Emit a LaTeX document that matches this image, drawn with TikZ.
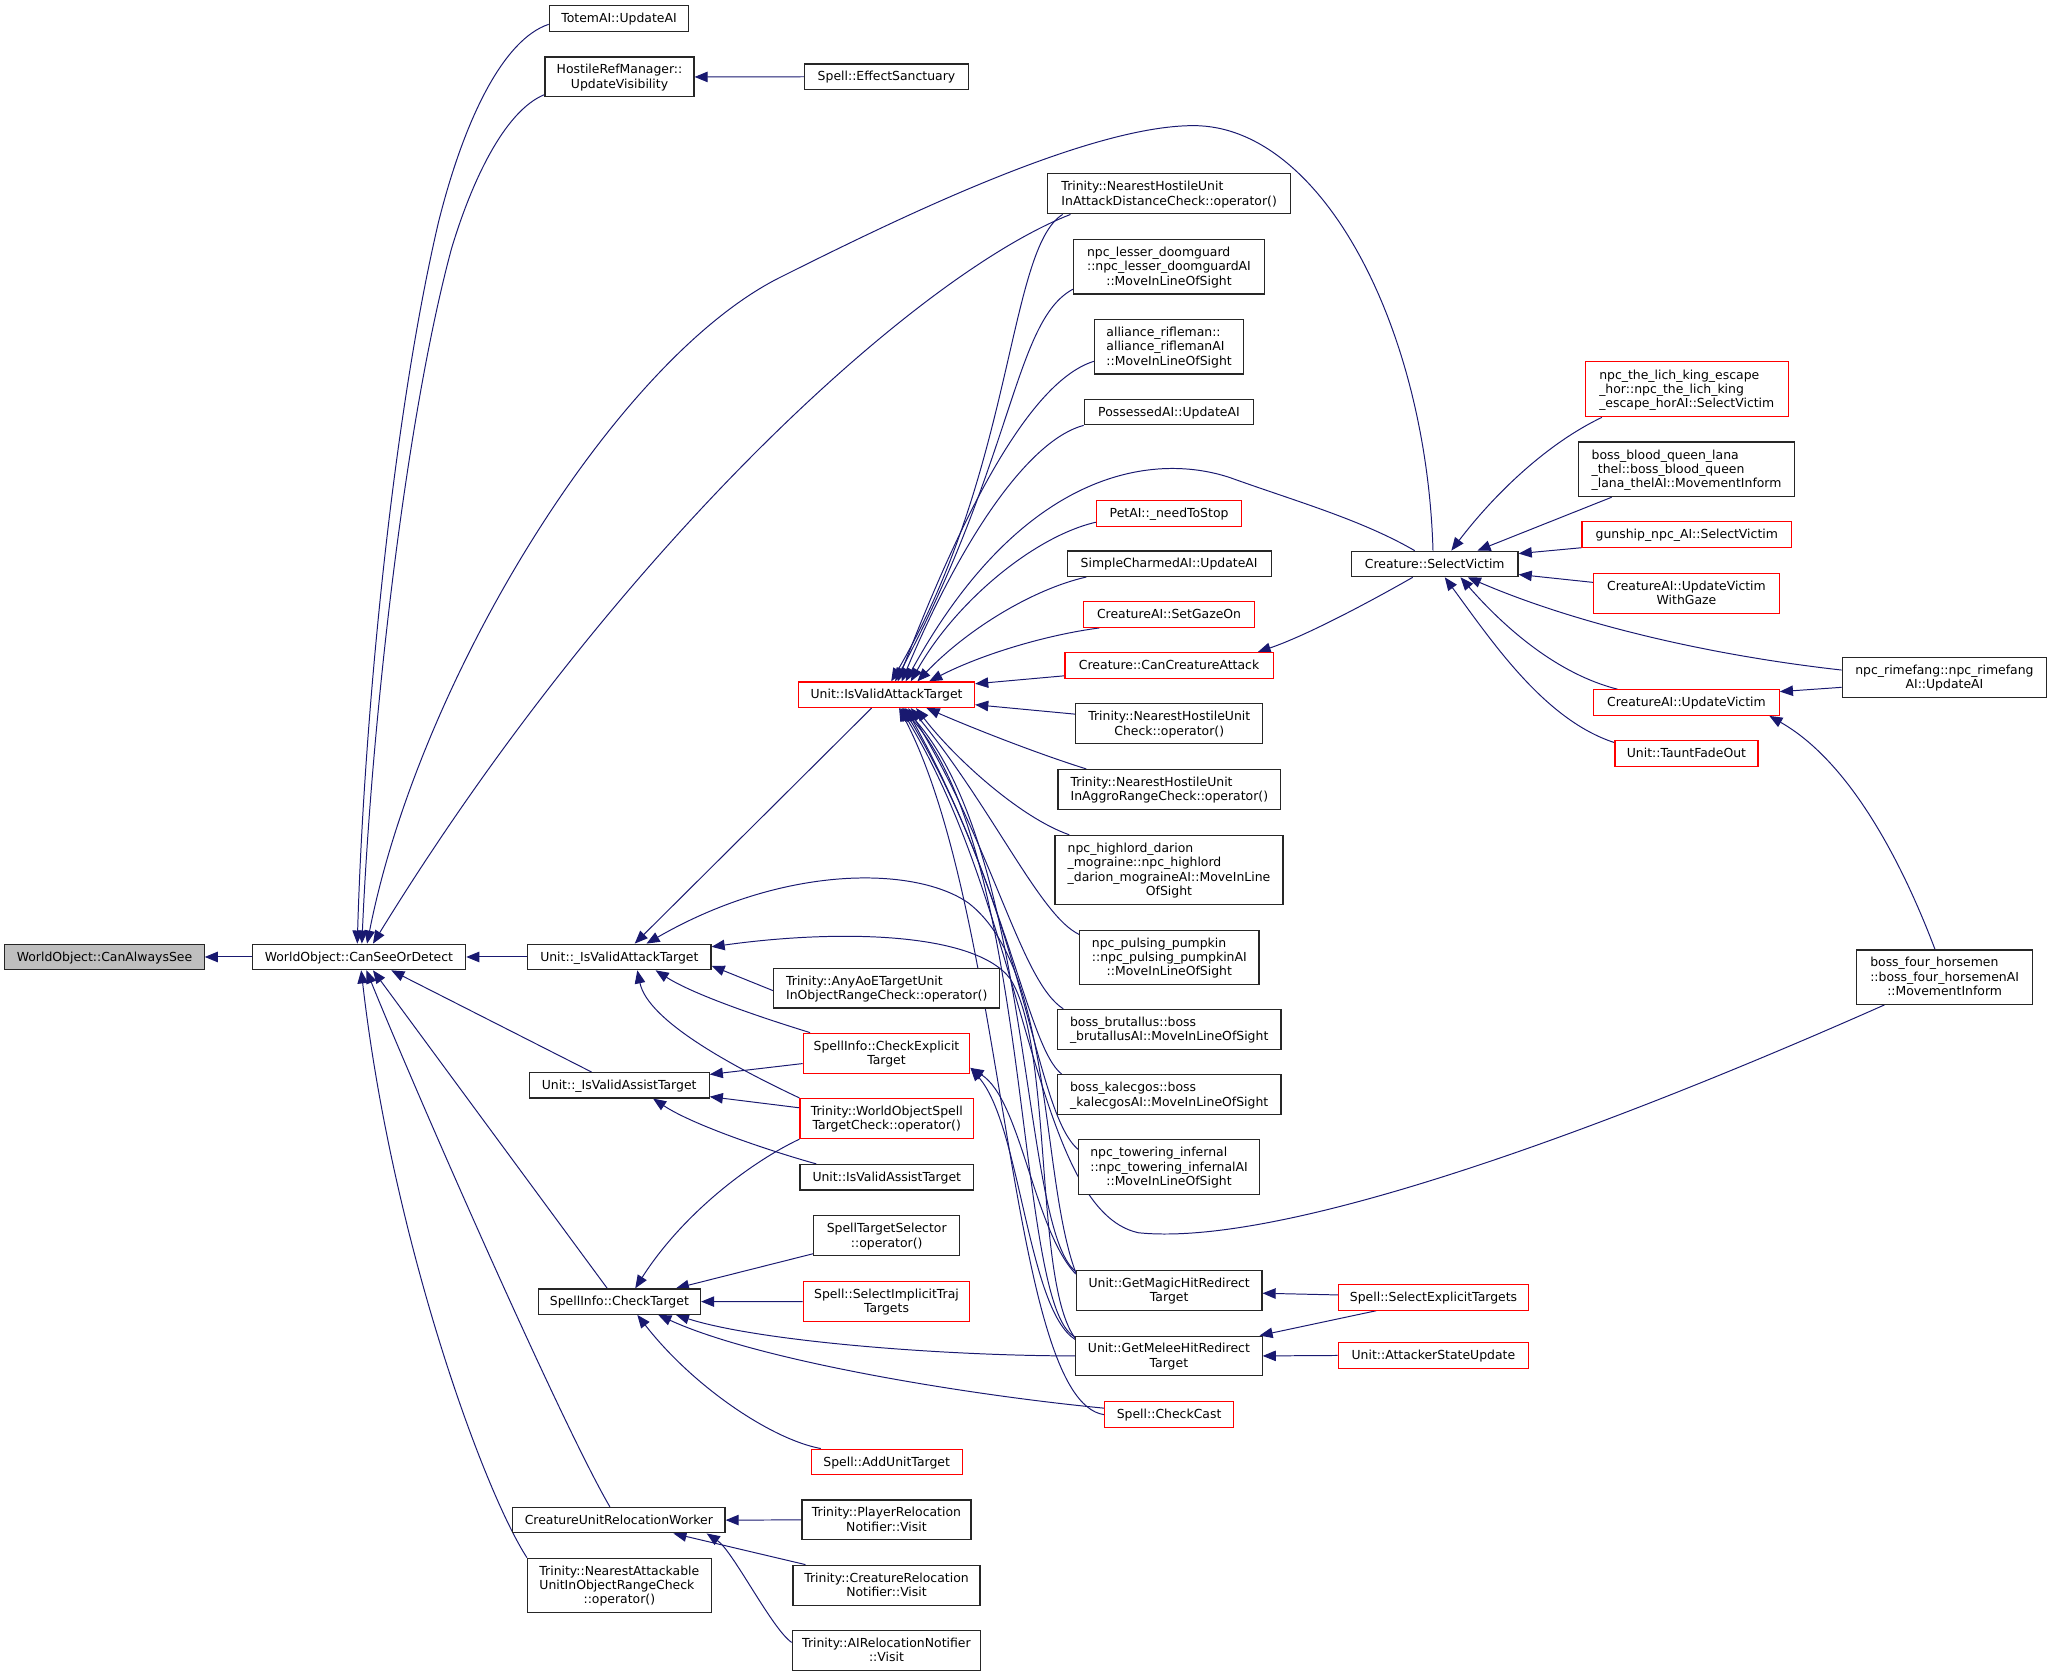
\documentclass[tikz,border=0pt]{standalone}
\usepackage{fontspec}
\setmainfont{DejaVu Sans}
\usetikzlibrary{arrows.meta}
\pgfdeclarelayer{bg}
\pgfsetlayers{bg,main}
\definecolor{edgeblue}{HTML}{191970}
\definecolor{rootgray}{HTML}{BFBFBF}
\newcommand\LA[1]{\raisebox{-1pt}[\height][\depth]{\strut #1}}
\newcommand\LB[2]{\raisebox{-1pt}[\height][\depth]{\begin{tabular}{@{}l@{}}#1\\\multicolumn{1}{@{}c@{}}{#2}\end{tabular}}}
\newcommand\LC[3]{\raisebox{-1pt}[\height][\depth]{\begin{tabular}{@{}l@{}}#1\\#2\\\multicolumn{1}{@{}c@{}}{#3}\end{tabular}}}
\newcommand\LD[4]{\raisebox{-1pt}[\height][\depth]{\begin{tabular}{@{}l@{}}#1\\#2\\#3\\\multicolumn{1}{@{}c@{}}{#4}\end{tabular}}}
\newcommand\mkbox[7]{%
  \pgfmathsetmacro\ndcx{(#3+#5)/2}%
  \pgfmathsetmacro\ndcy{(#4+#6)/2}%
  \pgfmathsetmacro\ndw{#5-#3}%
  \pgfmathsetmacro\ndh{#6-#4}%
  \node[#2,minimum width=\ndw pt,minimum height=\ndh pt] (#1) at (\ndcx,\ndcy) {#7};}
\begin{document}
\begin{tikzpicture}[x=1pt,y=-1pt,
  box/.style={draw=black!85,line width=0.9pt,fill=white,inner sep=0pt,font=\fontsize{9.5}{11}\selectfont},
  redbox/.style={box,draw=red},
  rootbox/.style={box,fill=rootgray},
  edge/.style={draw=edgeblue,line width=0.75pt,-{Triangle[length=10pt,width=8pt]}}]
\begin{pgfonlayer}{bg}
\fill[white] (0,0) rectangle (1568,1281.5);
\end{pgfonlayer}
\useasboundingbox (0,0) rectangle (1568,1281.5);

\mkbox{root}{rootbox}{3.7}{721.5}{156}{741}{\LA{WorldObject::CanAlwaysSee}}
\mkbox{csd}{box}{192.7}{721.5}{355.8}{741}{\LA{WorldObject::CanSeeOrDetect}}
\mkbox{iat}{box}{403.2}{721.5}{543.3}{741}{\LA{Unit::\_IsValidAttackTarget}}
\mkbox{iast}{box}{404.3}{819.6}{541.9}{839}{\LA{Unit::\_IsValidAssistTarget}}
\mkbox{ct}{box}{411.3}{984.9}{535.3}{1004.3}{\LA{SpellInfo::CheckTarget}}
\mkbox{curw}{box}{391.8}{1151.8}{554}{1171.3}{\LA{CreatureUnitRelocationWorker}}
\mkbox{nau}{box}{403.1}{1190.7}{543.4}{1232}{\LC{Trinity::NearestAttackable}{UnitInObjectRangeCheck}{::operator()}}
\mkbox{totem}{box}{419.7}{4.3}{526.3}{23.8}{\LA{TotemAI::UpdateAI}}
\mkbox{hrm}{box}{416.5}{43.6}{530.3}{74}{\LB{HostileRefManager::}{UpdateVisibility}}
\mkbox{es}{box}{615}{48.9}{739.8}{68.4}{\LA{Spell::EffectSanctuary}}
\mkbox{iva}{redbox}{610.2}{521.1}{744.7}{540.6}{\LA{Unit::IsValidAttackTarget}}
\mkbox{aoe}{box}{591.2}{740.1}{764}{770.2}{\LB{Trinity::AnyAoETargetUnit}{InObjectRangeCheck::operator()}}
\mkbox{cet}{redbox}{613.7}{789.5}{741.1}{820.2}{\LB{SpellInfo::CheckExplicit}{Target}}
\mkbox{wos}{redbox}{611.3}{839.4}{743.9}{870}{\LB{Trinity::WorldObjectSpell}{TargetCheck::operator()}}
\mkbox{ivas}{box}{611.3}{889.8}{743.9}{909.3}{\LA{Unit::IsValidAssistTarget}}
\mkbox{sts}{box}{621.8}{929.1}{733.3}{959.6}{\LB{SpellTargetSelector}{::operator()}}
\mkbox{sitt}{redbox}{613.7}{979.2}{741.1}{1009.9}{\LB{Spell::SelectImplicitTraj}{Targets}}
\mkbox{aut}{redbox}{619.8}{1107.3}{735.2}{1126.8}{\LA{Spell::AddUnitTarget}}
\mkbox{prn}{box}{612.8}{1146.2}{741.9}{1176.6}{\LB{Trinity::PlayerRelocation}{Notifier::Visit}}
\mkbox{crn}{box}{605.9}{1196}{748.9}{1226.7}{\LB{Trinity::CreatureRelocation}{Notifier::Visit}}
\mkbox{airn}{box}{605.4}{1245.8}{749.3}{1276.6}{\LB{Trinity::AIRelocationNotifier}{::Visit}}
\mkbox{nhad}{box}{800.5}{132.8}{986.3}{163.4}{\LB{Trinity::NearestHostileUnit}{InAttackDistanceCheck::operator()}}
\mkbox{lesser}{box}{820.3}{183.1}{966.2}{224.6}{\LC{npc\_lesser\_doomguard}{::npc\_lesser\_doomguardAI}{::MoveInLineOfSight}}
\mkbox{rifle}{box}{836.6}{243.9}{950.1}{285.8}{\LC{alliance\_rifleman::}{alliance\_riflemanAI}{::MoveInLineOfSight}}
\mkbox{poss}{box}{828.5}{305.1}{958}{324.6}{\LA{PossessedAI::UpdateAI}}
\mkbox{pet}{redbox}{837.8}{382.5}{948.9}{402}{\LA{PetAI::\_needToStop}}
\mkbox{scai}{box}{815.5}{421}{971.3}{440.5}{\LA{SimpleCharmedAI::UpdateAI}}
\mkbox{sgo}{redbox}{828.1}{459.9}{958.5}{479.4}{\LA{CreatureAI::SetGazeOn}}
\mkbox{cca}{redbox}{813.8}{498.8}{972.9}{518.3}{\LA{Creature::CanCreatureAttack}}
\mkbox{nhc}{box}{822}{537.7}{964.9}{568.4}{\LB{Trinity::NearestHostileUnit}{Check::operator()}}
\mkbox{nhar}{box}{808.4}{588}{978.7}{618.4}{\LB{Trinity::NearestHostileUnit}{InAggroRangeCheck::operator()}}
\mkbox{highlord}{box}{806.1}{638.3}{980.4}{691}{\LD{npc\_highlord\_darion}{\_mograine::npc\_highlord}{\_darion\_mograineAI::MoveInLine}{OfSight}}
\mkbox{pump}{box}{825}{710.8}{962}{752.3}{\LC{npc\_pulsing\_pumpkin}{::npc\_pulsing\_pumpkinAI}{::MoveInLineOfSight}}
\mkbox{brut}{box}{808}{771.3}{978.8}{801.8}{\LB{boss\_brutallus::boss}{\_brutallusAI::MoveInLineOfSight}}
\mkbox{kal}{box}{808}{821.1}{978.8}{851.9}{\LB{boss\_kalecgos::boss}{\_kalecgosAI::MoveInLineOfSight}}
\mkbox{tow}{box}{824.4}{870.8}{962.2}{912.5}{\LC{npc\_towering\_infernal}{::npc\_towering\_infernalAI}{::MoveInLineOfSight}}
\mkbox{gmag}{box}{822.5}{971}{964.3}{1001.3}{\LB{Unit::GetMagicHitRedirect}{Target}}
\mkbox{gmel}{box}{822}{1021}{964.4}{1051.2}{\LB{Unit::GetMeleeHitRedirect}{Target}}
\mkbox{cc}{redbox}{844}{1071.2}{942.7}{1090.7}{\LA{Spell::CheckCast}}
\mkbox{sv}{box}{1032.6}{421.2}{1160}{440.7}{\LA{Creature::SelectVictim}}
\mkbox{lich}{redbox}{1211.4}{276.4}{1366.4}{318.5}{\LC{npc\_the\_lich\_king\_escape}{\_hor::npc\_the\_lich\_king}{\_escape\_horAI::SelectVictim}}
\mkbox{bq}{box}{1206.3}{337.7}{1371.2}{379.5}{\LC{boss\_blood\_queen\_lana}{\_thel::boss\_blood\_queen}{\_lana\_thelAI::MovementInform}}
\mkbox{gun}{redbox}{1208.8}{398.6}{1369}{418.1}{\LA{gunship\_npc\_AI::SelectVictim}}
\mkbox{uvwg}{redbox}{1217.6}{438.1}{1359.8}{468.6}{\LB{CreatureAI::UpdateVictim}{WithGaze}}
\mkbox{uv}{redbox}{1217.7}{527.1}{1359.6}{546.6}{\LA{CreatureAI::UpdateVictim}}
\mkbox{tfo}{redbox}{1234}{566}{1343.3}{585.5}{\LA{Unit::TauntFadeOut}}
\mkbox{sel}{redbox}{1022.8}{981.6}{1168}{1001.1}{\LA{Spell::SelectExplicitTargets}}
\mkbox{asu}{redbox}{1022.6}{1026}{1168}{1045.5}{\LA{Unit::AttackerStateUpdate}}
\mkbox{rime}{box}{1407.7}{502.4}{1563.9}{532.8}{\LB{npc\_rimefang::npc\_rimefang}{AI::UpdateAI}}
\mkbox{horse}{box}{1418.7}{725.9}{1553.2}{767.4}{\LC{boss\_four\_horsemen}{::boss\_four\_horsemenAI}{::MovementInform}}

\begin{pgfonlayer}{bg}
% callers of CanSeeOrDetect and root
\draw[edge] (csd.west) -- (root.east);
\draw[edge] ([shift={(0,4.55)}]totem.west) .. controls (385,30) and (355,90) .. (335,170) .. controls (300,320) and (278,550) .. ([shift={(-1.25,0)}]csd.north);
\draw[edge] ([shift={(0,13.5)}]hrm.west) .. controls (385,85) and (360,140) .. (345,190) .. controls (310,320) and (284,550) .. ([shift={(2.25,0)}]csd.north);
\draw[edge] (es.west) -- (hrm.east);
\draw[edge] ([shift={(-75.4,0)}]nhad.south) .. controls (700,210) and (470,420) .. ([shift={(10.75,0)}]csd.north);
\draw[edge] ([shift={(-1.3,0)}]sv.north) .. controls (1090,250) and (1010,96) .. (912,96) .. controls (830,96) and (680,170) .. (596,212) .. controls (470,275) and (320,520) .. ([shift={(6.25,0)}]csd.north);
\draw[edge] (iat.west) -- (csd.east);
\draw[edge] ([shift={(-21.1,0)}]iast.north) -- ([shift={(24.75,0)}]csd.south);
\draw[edge] ([shift={(-9.3,0)}]ct.north) -- ([shift={(10.75,0)}]csd.south);
\draw[edge] ([shift={(-6.9,0)}]curw.north) .. controls (430,1090) and (320,840) .. ([shift={(5.75,0)}]csd.south);
\draw[edge] (nau.north west) .. controls (370,1140) and (300,950) .. ([shift={(1.75,0)}]csd.south);
% callers of _IsValidAttackTarget
\draw[edge] ([shift={(-11.45,0)}]iva.south) -- ([shift={(11.75,0)}]iat.north);
\draw[edge] ([shift={(0,2)}]gmag.north west) .. controls (795,900) and (805,740) .. (740,690) .. controls (700,662) and (600,660) .. ([shift={(20.75,0)}]iat.north);
\draw[edge] ([shift={(0,2)}]gmel.north west) .. controls (790,980) and (805,800) .. (772,748) .. controls (745,712) and (640,710) .. ([shift={(0,-7.75)}]iat.east);
\draw[edge] ([shift={(0,1.85)}]aoe.west) -- ([shift={(0,6.75)}]iat.east);
\draw[edge] ([shift={(-58.4,0)}]cet.north) .. controls (580,777) and (530,760) .. ([shift={(27.75,0)}]iat.south);
\draw[edge] (wos.north west) .. controls (560,815) and (495,780) .. ([shift={(13.75,0)}]iat.south);
% callers of _IsValidAssistTarget
\draw[edge] ([shift={(0,7.85)}]cet.west) -- ([shift={(0,-8.3)}]iast.east);
\draw[edge] ([shift={(0,-8.2)}]wos.west) -- ([shift={(0,8.7)}]iast.east);
\draw[edge] ([shift={(-53.9,0)}]ivas.north) .. controls (590,880) and (530,860) .. ([shift={(25.9,0)}]iast.south);
% callers of CheckTarget
\draw[edge] (wos.south west) .. controls (570,890) and (520,930) .. ([shift={(12.1,0)}]ct.north);
\draw[edge] ([shift={(0,13.65)}]sts.west) -- ([shift={(43.2,0)}]ct.north);
\draw[edge] (sitt.west) -- (ct.east);
\draw[edge] (gmel.west) .. controls (720,1036) and (580,1025) .. ([shift={(43.2,0)}]ct.south);
\draw[edge] ([shift={(0,-4.95)}]cc.west) .. controls (740,1066) and (580,1040) .. ([shift={(29.7,0)}]ct.south);
\draw[edge] ([shift={(7.8,0)}]aut.north west) .. controls (590,1100) and (530,1060) .. ([shift={(13.7,0)}]ct.south);
% callers of CreatureUnitRelocationWorker
\draw[edge] (prn.west) -- (curw.east);
\draw[edge] ([shift={(10,0)}]crn.north west) -- ([shift={(41.7,0)}]curw.south);
\draw[edge] ([shift={(0,-6.2)}]airn.west) .. controls (590,1245) and (560,1185) .. ([shift={(67.1,0)}]curw.south);
% callers of IsValidAttackTarget
\draw[edge] ([shift={(-81.4,0)}]nhad.south) .. controls (770,190) and (775,360) .. ([shift={(3.55,0)}]iva.north);
\draw[edge] ([shift={(0,17.15)}]lesser.west) .. controls (775,245) and (775,350) .. ([shift={(6.55,0)}]iva.north);
\draw[edge] ([shift={(0,11.15)}]rifle.west) .. controls (790,290) and (740,380) .. ([shift={(8.55,0)}]iva.north);
\draw[edge] (poss.south west) .. controls (790,335) and (740,400) .. ([shift={(11.55,0)}]iva.north);
\draw[edge] ([shift={(-15.3,0)}]sv.north) .. controls (1040,397) and (990,383) .. (940,365) .. controls (880,345) and (780,360) .. ([shift={(14.55,0)}]iva.north);
\draw[edge] ([shift={(0,6.8)}]pet.west) .. controls (790,410) and (730,460) .. ([shift={(18.55,0)}]iva.north);
\draw[edge] ([shift={(-63.4,0)}]scai.south) .. controls (790,450) and (740,480) .. ([shift={(23.55,0)}]iva.north);
\draw[edge] ([shift={(-53.3,0)}]sgo.south) .. controls (800,485) and (750,500) .. ([shift={(32.55,0)}]iva.north);
\draw[edge] ([shift={(0,7.85)}]cca.west) -- ([shift={(0,-8.35)}]iva.east);
\draw[edge] ([shift={(0,-7.35)}]nhc.west) -- ([shift={(0,7.65)}]iva.east);
\draw[edge] ([shift={(-63.55,0)}]nhar.north) .. controls (790,575) and (740,555) .. ([shift={(30.55,0)}]iva.south);
\draw[edge] ([shift={(-76.25,0)}]highlord.north) .. controls (780,625) and (730,580) .. ([shift={(22.55,0)}]iva.south);
\draw[edge] ([shift={(0,-17.55)}]pump.west) .. controls (795,700) and (760,620) .. ([shift={(18.55,0)}]iva.south);
\draw[edge] ([shift={(4.9,0)}]brut.north west) .. controls (780,750) and (760,650) .. ([shift={(16.55,0)}]iva.south);
\draw[edge] ([shift={(3.6,0)}]kal.north west) .. controls (785,800) and (770,680) .. ([shift={(14.55,0)}]iva.south);
\draw[edge] ([shift={(0,-13.25)}]tow.west) .. controls (790,850) and (785,700) .. ([shift={(12.55,0)}]iva.south);
\draw[edge] ([shift={(-45.95,0)}]horse.south) .. controls (1300,830) and (1000,955) .. (870,942) .. controls (790,925) and (785,700) .. ([shift={(10.55,0)}]iva.south);
\draw[edge] ([shift={(0,1)}]gmag.north west) .. controls (780,940) and (790,650) .. ([shift={(13.55,0)}]iva.south);
\draw[edge] ([shift={(0,1)}]gmel.north west) .. controls (775,1000) and (790,650) .. ([shift={(11.55,0)}]iva.south);
\draw[edge] (cc.west) .. controls (770,1070) and (770,700) .. ([shift={(9.55,0)}]iva.south);
% callers of CheckExplicitTarget
\draw[edge] ([shift={(0,3)}]gmag.north west) .. controls (790,940) and (780,840) .. ([shift={(0,11.15)}]cet.east);
\draw[edge] ([shift={(0,3)}]gmel.north west) .. controls (785,1000) and (780,860) .. ([shift={(0,11.15)}]cet.east);
% callers of SelectVictim
\draw[edge] ([shift={(-64.9,0)}]lich.south) .. controls (1180,340) and (1140,380) .. ([shift={(12.7,0)}]sv.north);
\draw[edge] ([shift={(-57.25,0)}]bq.south) -- ([shift={(32.7,0)}]sv.north);
\draw[edge] (gun.south west) -- ([shift={(0,-7.95)}]sv.east);
\draw[edge] ([shift={(0,-8.35)}]uvwg.west) -- ([shift={(0,8.05)}]sv.east);
\draw[edge] ([shift={(0,-5.6)}]rime.west) .. controls (1300,500) and (1200,475) .. ([shift={(25.3,0)}]sv.south);
\draw[edge] ([shift={(-52.65,0)}]uv.north) .. controls (1190,515) and (1150,480) .. ([shift={(19.7,0)}]sv.south);
\draw[edge] ([shift={(0,-8.35)}]tfo.west) .. controls (1180,550) and (1140,490) .. ([shift={(7.7,0)}]sv.south);
\draw[edge] ([shift={(-16.8,0)}]sv.south) .. controls (1050,458) and (1000,485) .. ([shift={(67.65,0)}]cca.north);
% callers of UpdateVictim
\draw[edge] ([shift={(0,7.6)}]rime.west) -- ([shift={(0,-8.35)}]uv.east);
\draw[edge] ([shift={(-7.35,0)}]horse.north) .. controls (1450,650) and (1410,580) .. ([shift={(63.35,0)}]uv.south);
% callers of redirect targets
\draw[edge] ([shift={(0,-1.85)}]sel.west) -- ([shift={(0,2.05)}]gmag.east);
\draw[edge] ([shift={(-43.7,0)}]sel.south) -- ([shift={(-2.4,0)}]gmel.north east);
\draw[edge] (asu.west) -- (gmel.east);
\end{pgfonlayer}
\end{tikzpicture}
\end{document}
